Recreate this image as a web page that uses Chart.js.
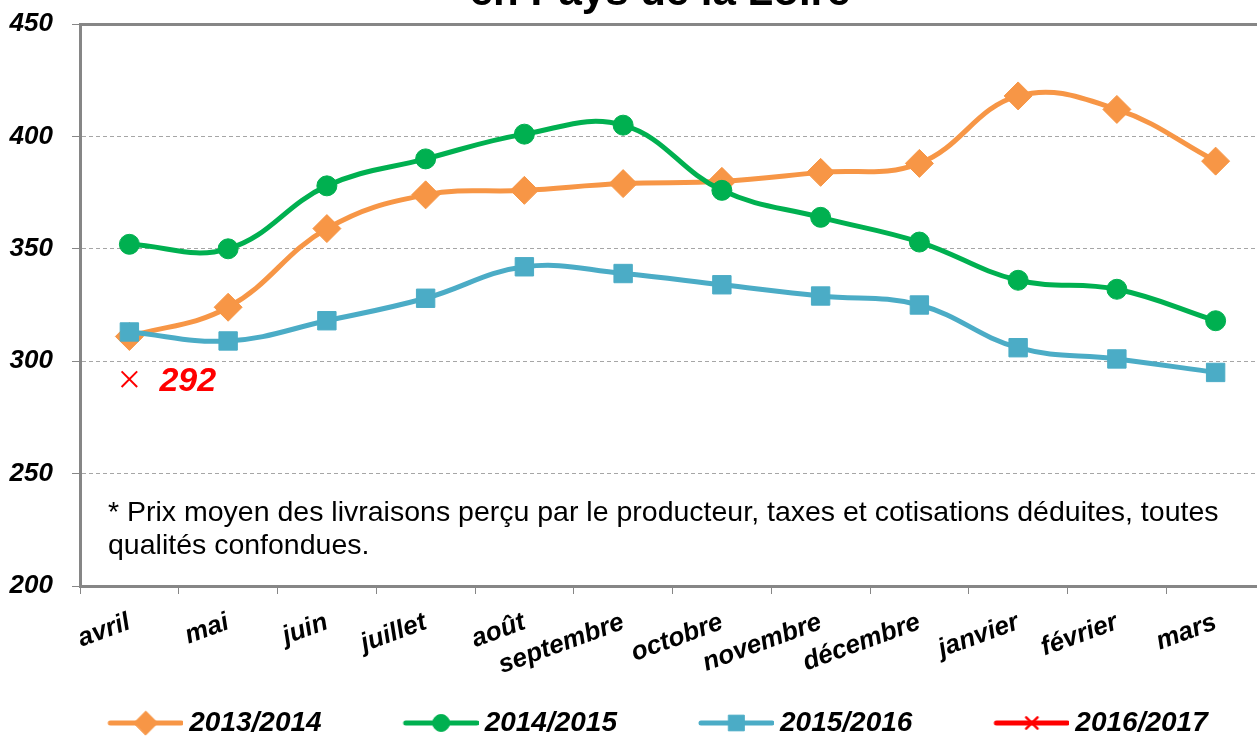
<!DOCTYPE html>
<html><head><meta charset="utf-8">
<script src="https://cdn.jsdelivr.net/npm/chart.js@4.4.1/dist/chart.umd.min.js"></script>
<style>
html,body{margin:0;padding:0;background:#fff;overflow:hidden}
#wrap{position:relative;width:1257px;height:737px;overflow:hidden;background:#fff}
canvas{display:block}
</style></head><body>
<div id="wrap"><canvas id="c" width="1280" height="747" style="width:1280px;height:747px"></canvas></div>
<script>
// ---- data ----
const months = ['avril','mai','juin','juillet','août','septembre','octobre','novembre','décembre','janvier','février','mars'];
const seasons = ['2013/2014','2014/2015','2015/2016','2016/2017'];
const s2013_2014 = [311, 324, 359, 374, 376, 379, 380, 384, 388, 418, 412, 389];
const s2014_2015 = [352, 350, 378, 390, 401, 405, 376, 364, 353, 336, 332, 318];
const s2015_2016 = [313, 309, 318, 328, 342, 339, 334, 329, 325, 306, 301, 295];
const s2016_2017 = [292, null, null, null, null, null, null, null, null, null, null, null];
const yTicks = [200, 250, 300, 350, 400, 450];
const titleText = 'en Pays de la Loire';
const noteLines = ['* Prix moyen des livraisons perçu par le producteur, taxes et cotisations déduites, toutes', 'qualités confondues.'];

const FAM = "'Liberation Sans', Arial, Helvetica, sans-serif";
const colors = ['#F79646', '#00B050', '#4BACC6', '#FF0000'];
const styles = ['rectRot', 'circle', 'rect', 'crossRot'];
const radii = [14, 10, 13, 11];

Chart.defaults.font.family = FAM;

// legend icons: line + marker
function makeIcon(i) {
  const cv = document.createElement('canvas');
  cv.width = 130; cv.height = 28;
  const g = cv.getContext('2d');
  g.strokeStyle = colors[i]; g.fillStyle = colors[i];
  g.lineWidth = 5; g.lineCap = 'round';
  g.beginPath(); g.moveTo(57, 14); g.lineTo(128, 14); g.stroke();
  const opts = {pointStyle: styles[i], radius: i === 3 ? 8 : radii[i] * 0.85, borderWidth: i === 3 ? 2.5 : 1, rotation: 0};
  g.lineWidth = opts.borderWidth;
  if (Chart.helpers && Chart.helpers.drawPoint) {
    Chart.helpers.drawPoint(g, opts, 92.5, 14);
  }
  return cv;
}
const icons = [0, 1, 2, 3].map(makeIcon);

const overlay = {
  id: 'overlay',
  afterDraw(chart) {
    const {ctx, chartArea} = chart;
    ctx.save();
    ctx.fillStyle = '#000';
    ctx.font = 'bold 42px ' + FAM;
    ctx.textAlign = 'center';
    ctx.textBaseline = 'alphabetic';
    ctx.fillText(titleText, 660, 5);
    ctx.font = '28.5px ' + FAM;
    ctx.textAlign = 'left';
    ctx.textBaseline = 'middle';
    noteLines.forEach((l, i) => ctx.fillText(l, chartArea.left + 28, chartArea.bottom - 73 + i * 33));
    const pt = chart.getDatasetMeta(3).data[0];
    if (pt) {
      ctx.font = 'bold italic 34px ' + FAM;
      ctx.fillStyle = '#FF0000';
      ctx.fillText(String(s2016_2017[0]), pt.x + 30, pt.y + 2);
    }
    ctx.restore();
  }
};

const seriesData = [s2013_2014, s2014_2015, s2015_2016, s2016_2017];
const datasets = seriesData.map((d, i) => ({
  label: seasons[i],
  data: d,
  borderColor: colors[i],
  backgroundColor: colors[i],
  pointBackgroundColor: colors[i],
  pointBorderColor: colors[i],
  pointBorderWidth: i === 3 ? 2 : 1,
  borderWidth: 5,
  pointStyle: styles[i],
  pointRadius: radii[i],
  pointHoverRadius: radii[i],
  tension: 0.4,
  fill: false,
  order: 3 - i
}));

const tickFont = {size: 26, weight: 'bold', style: 'italic'};

new Chart(document.getElementById('c'), {
  type: 'line',
  data: {labels: months, datasets},
  options: {
    responsive: false,
    animation: false,
    devicePixelRatio: 1,
    layout: {padding: {left: 0, right: 11, top: 24, bottom: 0}},
    plugins: {
      title: {display: false},
      tooltip: {enabled: false},
      legend: {
        position: 'bottom',
        labels: {
          usePointStyle: true,
          pointStyleWidth: 114,
          padding: 35,
          color: '#000',
          font: {size: 28, weight: 'bold', style: 'italic'},
          generateLabels: (chart) => chart.data.datasets.map((ds, i) => ({
            text: ds.label, pointStyle: icons[i], rotation: 0,
            fillStyle: ds.borderColor, strokeStyle: ds.borderColor,
            lineWidth: 0, hidden: false, datasetIndex: i, fontColor: '#000'
          }))
        }
      }
    },
    scales: {
      x: {
        offset: true,
        grid: {offset: true, drawOnChartArea: false, drawTicks: true, tickLength: 8, color: '#868686', lineWidth: 1},
        border: {display: true, color: '#868686', width: 3},
        ticks: {autoSkip: false, minRotation: 20, maxRotation: 20, padding: 13, color: '#000', font: tickFont},
        afterFit(s) { s.height = 88; }
      },
      y: {
        min: 200, max: 450,
        afterBuildTicks(s) { s.ticks = yTicks.map(v => ({value: v})); },
        ticks: {padding: 19, color: '#000', font: tickFont},
        grid: {
          color: c => (c.tick && c.tick.value === 450) ? '#868686' : '#a6a6a6',
          lineWidth: c => (c.tick && c.tick.value === 450) ? 3 : 1,
          drawTicks: true, tickLength: 8, tickColor: '#868686', tickWidth: 1
        },
        border: {display: true, color: '#868686', width: 3,
          dash: c => (c.type === 'tick' && c.tick && c.tick.value !== 450) ? [4, 3] : []},
        afterFit(s) { s.width = 80; s.paddingTop = 0; s.paddingBottom = 0; }
      }
    }
  },
  plugins: [overlay]
});
</script>
</body></html>
